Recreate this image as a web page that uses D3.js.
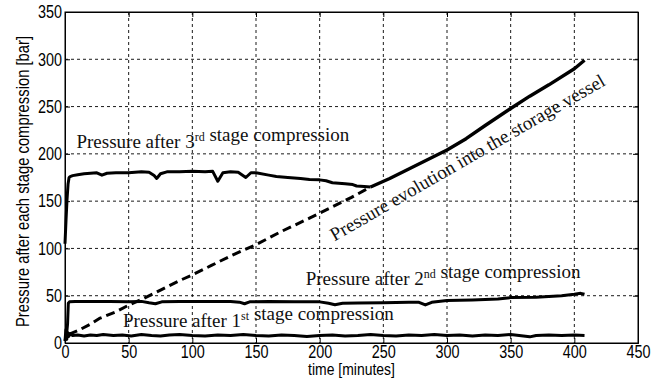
<!DOCTYPE html>
<html>
<head>
<meta charset="utf-8">
<script src="https://cdn.jsdelivr.net/npm/d3@7"></script>
<style>
  body { margin: 0; background: #fff; }
  svg { display: block; }
  .tick-label { font-family: "Liberation Sans Narrow", "Arial Narrow", "Liberation Sans", sans-serif; font-size: 18px; fill: #000; }
  .note { font-family: "Liberation Serif", "Times New Roman", serif; font-size: 19px; fill: #111; }
</style>
</head>
<body>
<div id="chart"></div>
<script>
// time [minutes] / pressure [bar]
const stage3Time = [0, 0.8, 1.6, 2.4, 3.2, 4, 6, 10, 15, 20, 25, 29, 33, 40, 50, 55, 60, 66, 70, 72, 75, 80, 90, 100, 110, 116, 120, 124, 130, 136, 142, 146, 150, 160, 166, 175, 185, 192, 200, 205, 210, 220, 226, 229, 235, 240];
const stage3Vals = [105, 130, 152, 168, 175, 176, 177, 178, 179, 179.5, 180, 177.5, 179.5, 180, 180, 180.5, 181, 180.5, 177, 174, 179, 181, 181, 181.5, 181, 181.5, 171, 180, 181, 180.5, 175, 180, 180, 177.5, 176, 175, 174, 173, 172.5, 171.5, 169.5, 168.5, 167.5, 166, 165.5, 165];

const vesselTime = [3, 10, 20, 27, 40, 50, 60, 75, 90, 100, 115, 130, 150, 170, 192, 210, 225, 240, 255, 270, 285, 300, 315, 330, 350, 365, 380, 400, 408];
const vesselVals = [9, 13, 20, 26, 33, 40, 46, 56, 66, 72, 82, 92, 104, 118, 132, 144, 154, 165, 174, 184, 194, 204, 216, 230, 248, 261, 273, 290, 299];
const switchTime = 240; // vessel curve is dashed before, joins 3rd stage after

const stage2Time = [0, 1, 2, 2.6, 3.5, 8, 20, 35, 50, 60, 66, 71, 76, 90, 110, 130, 137, 141, 145, 160, 180, 200, 207, 212, 218, 230, 250, 270, 278, 283, 288, 300, 320, 340, 350, 370, 390, 400, 405, 408];
const stage2Vals = [3, 6, 20, 42, 43.5, 43.8, 44, 43.8, 43.5, 44, 42.5, 41.5, 43.5, 44, 43.8, 43.8, 43.2, 41.5, 43.5, 43.8, 43.5, 43.5, 42, 40.5, 42, 42.2, 42.5, 43.2, 43, 40.2, 43, 45, 45.5, 46.5, 48, 48.5, 50, 51.5, 52.5, 51.5];

const stage1Time = [0, 0.7, 1.4, 2, 3, 4, 6, 10, 15, 20, 25, 30, 38, 45, 52, 60, 68, 75, 82, 90, 100, 110, 120, 130, 140, 150, 160, 170, 180, 190, 200, 210, 220, 230, 240, 250, 260, 270, 280, 290, 300, 310, 320, 330, 340, 350, 360, 365, 370, 380, 390, 400, 408];
const stage1Vals = [2, 14, 4, 11, 7, 10, 8, 8.5, 7.5, 8.5, 8, 9, 8, 8.5, 7.5, 9, 8, 7.5, 8.5, 9, 8, 7.5, 8.5, 8, 9, 8, 7.5, 8.5, 8, 7, 8, 8.5, 7.5, 8, 9, 8, 7.5, 8.5, 8, 9, 8, 8.5, 7.5, 8.5, 8, 9, 7.5, 6.5, 8, 8.5, 8, 8.5, 8];

const xTicks = [0, 50, 100, 150, 200, 250, 300, 350, 400, 450];
const yTicks = [0, 50, 100, 150, 200, 250, 300, 350];

const W = 661, H = 379;
const margin = {top: 12, right: 23, bottom: 36, left: 65};
const iw = W - margin.left - margin.right;
const ih = H - margin.top - margin.bottom;

const svg = d3.select('#chart').append('svg')
    .attr('width', W)
    .attr('height', H);
const g = svg.append('g')
    .attr('transform', 'translate(' + margin.left + ',' + margin.top + ')');

const x = d3.scaleLinear().domain([0, 450]).range([0, iw]);
const y = d3.scaleLinear().domain([0, 350]).range([ih, 0]);

// squeeze a sans text horizontally, the original font is a narrow one
function narrow(sel, k) {
    sel.each(function() {
        const len = this.getComputedTextLength();
        d3.select(this).attr('textLength', len * k).attr('lengthAdjust', 'spacingAndGlyphs');
    });
}

// dotted grid
g.append('g').selectAll('line').data(xTicks.slice(1, -1)).join('line')
    .attr('x1', d => x(d)).attr('x2', d => x(d))
    .attr('y1', 0).attr('y2', ih)
    .attr('stroke', '#000').attr('stroke-width', 0.9).attr('stroke-dasharray', '3,3');
g.append('g').selectAll('line').data(yTicks.slice(1, -1)).join('line')
    .attr('y1', d => y(d)).attr('y2', d => y(d))
    .attr('x1', 0).attr('x2', iw)
    .attr('stroke', '#000').attr('stroke-width', 0.9).attr('stroke-dasharray', '3,3');

// axes, matlab style: inward ticks
const xAxis = g.append('g')
    .attr('transform', 'translate(0,' + ih + ')')
    .call(d3.axisBottom(x).tickValues(xTicks).tickSize(-5).tickPadding(2));
const yAxis = g.append('g')
    .call(d3.axisLeft(y).tickValues(yTicks).tickSize(-5).tickPadding(3));
g.append('g')
    .call(d3.axisTop(x).tickValues(xTicks).tickSize(-5).tickFormat(''));
g.append('g')
    .attr('transform', 'translate(' + iw + ',0)')
    .call(d3.axisRight(y).tickValues(yTicks).tickSize(-5).tickFormat(''));

svg.selectAll('.domain').attr('stroke', '#000');
svg.selectAll('.tick line').attr('stroke', '#000');
xAxis.selectAll('text').attr('class', 'tick-label').attr('dy', '0.72em').call(narrow, 0.8);
yAxis.selectAll('text').attr('class', 'tick-label').call(narrow, 0.8);

g.append('rect')
    .attr('width', iw).attr('height', ih)
    .attr('fill', 'none').attr('stroke', '#000').attr('stroke-width', 1);

// curves
const line = d3.line().x(d => x(d[0])).y(d => y(d[1]));
const pairs = (ts, vs) => ts.map((t, i) => [t, vs[i]]);
const vessel = pairs(vesselTime, vesselVals);

const curves = g.append('g').attr('fill', 'none').attr('stroke', '#000')
    .attr('stroke-linejoin', 'round');
curves.append('path').attr('d', line(pairs(stage1Time, stage1Vals))).attr('stroke-width', 3);
curves.append('path').attr('d', line(pairs(stage2Time, stage2Vals))).attr('stroke-width', 3);
curves.append('path').attr('d', line(pairs(stage3Time, stage3Vals))).attr('stroke-width', 3);
curves.append('path').attr('d', line(vessel.filter(d => d[0] <= switchTime)))
    .attr('stroke-width', 3).attr('stroke-dasharray', '9,5');
curves.append('path').attr('d', line(vessel.filter(d => d[0] >= switchTime)))
    .attr('stroke-width', 3.4);

// annotations
function note(t, v, parts, angle) {
    const tx = g.append('text').attr('class', 'note')
        .attr('transform', 'translate(' + x(t) + ',' + y(v) + ')' + (angle ? ' rotate(' + angle + ')' : ''))
        .attr('text-anchor', angle ? 'middle' : 'start');
    parts.forEach(p => {
        if (typeof p === 'string') {
            tx.append('tspan').text(p);
        } else {
            tx.append('tspan').attr('dy', -7).attr('font-size', 12).text(p.sup);
            tx.append('tspan').attr('dy', 7).text('');
        }
    });
}
note(9, 206, ['Pressure after 3', {sup: 'rd'}, ' stage compression']);
note(189, 61.3, ['Pressure after 2', {sup: 'nd'}, ' stage compression']);
note(45.5, 17.2, ['Pressure after 1', {sup: 'st'}, ' stage compression']);
note(318.5, 190.3, ['Pressure evolution into the storage vessel'], -30);

// axis titles
svg.append('text').attr('class', 'tick-label')
    .attr('x', margin.left + x(225)).attr('y', 375)
    .attr('text-anchor', 'middle')
    .style('font-size', '17px')
    .text('time [minutes]')
    .call(narrow, 0.82);
svg.append('text').attr('class', 'tick-label')
    .attr('transform', 'translate(29,' + (margin.top + ih / 2 + 4) + ') rotate(-90)')
    .attr('text-anchor', 'middle')
    .style('font-size', '18.5px')
    .text('Pressure after each stage compression [bar]')
    .call(narrow, 0.8);
</script>
</body>
</html>
